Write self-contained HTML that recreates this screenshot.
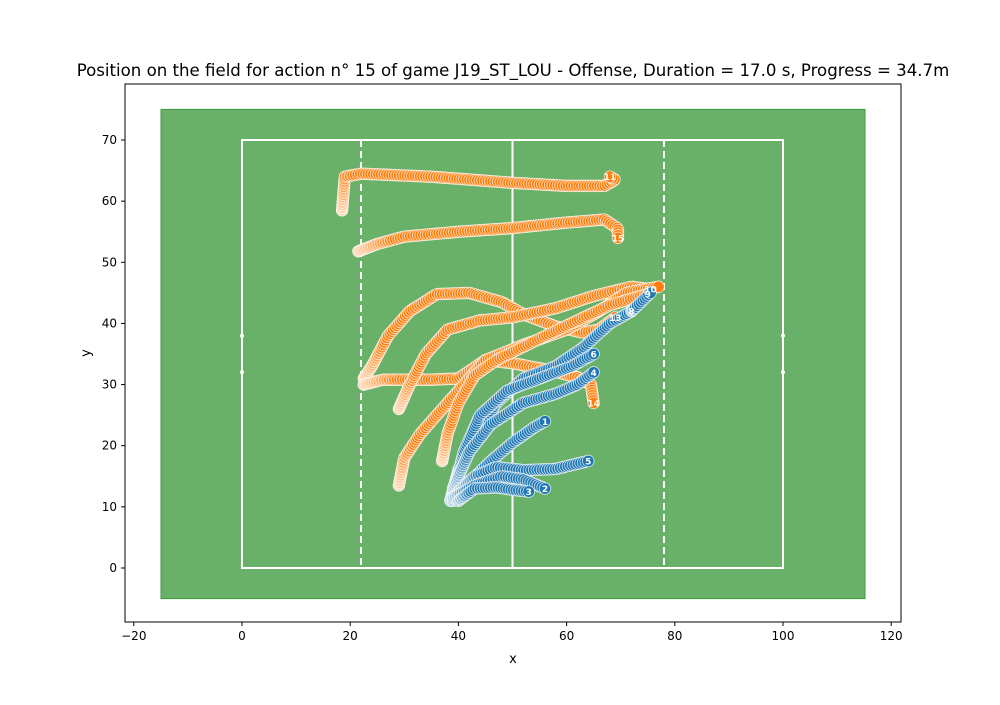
<!DOCTYPE html>
<html><head><meta charset="utf-8"><style>
body{margin:0;background:#fff;width:1000px;height:700px;overflow:hidden}
text{font-family:"DejaVu Sans","Liberation Sans",sans-serif}
</style></head><body>
<svg id="s" width="1000" height="700" xmlns="http://www.w3.org/2000/svg">
<text x="513" y="76" font-size="16.6" text-anchor="middle">Position on the field for action n° 15 of game J19_ST_LOU - Offense, Duration = 17.0 s, Progress = 34.7m</text>
<rect x="125" y="84" width="776" height="538" fill="#fff" stroke="#000" stroke-width="1"/>
<rect x="161" y="109.4" width="704" height="489.2" fill="#69b068" stroke="#3f9a3e" stroke-width="1"/>
<g stroke="#fff" stroke-width="2" fill="none">
<rect x="242" y="140" width="541" height="428"/>
<line x1="512.5" y1="140" x2="512.5" y2="568"/>
<line x1="361" y1="140" x2="361" y2="568" stroke-dasharray="7,4"/>
<line x1="664" y1="140" x2="664" y2="568" stroke-dasharray="7,4"/>
</g>
<g fill="#fff"><circle cx="242" cy="335.7" r="2"/><circle cx="242" cy="372.3" r="2"/><circle cx="783" cy="335.7" r="2"/><circle cx="783" cy="372.3" r="2"/></g>
<g id="tr"></g>
<g id="ax" font-size="12"></g>
<text x="513" y="663" font-size="13" text-anchor="middle">x</text>
<text x="90" y="353" font-size="13" text-anchor="middle" transform="rotate(-90 90 353)">y</text>
</svg>
<script>
var NS="http://www.w3.org/2000/svg",s=document.getElementById("tr"),ax=document.getElementById("ax");
function X(x){return 242+x*5.41}function Y(y){return 568-y*6.114}
function el(p,n,a){var e=document.createElementNS(NS,n);for(var k in a)e.setAttribute(k,a[k]);p.appendChild(e);return e}
[-20,0,20,40,60,80,100,120].forEach(function(v){var x=X(v);el(ax,"line",{x1:x,x2:x,y1:622,y2:626,stroke:"#000"});var t=el(ax,"text",{x:x,y:640,"text-anchor":"middle"});t.textContent=v<0?"\u2212"+(-v):v;});
[0,10,20,30,40,50,60,70].forEach(function(v){var y=Y(v);el(ax,"line",{x1:121,x2:125,y1:y,y2:y,stroke:"#000"});var t=el(ax,"text",{x:117,y:y+4,"text-anchor":"end"});t.textContent=v;});
var O=[255,127,14],B=[31,119,180];
var paths=[
[O,"11",[[18.5,58.5],[19,64],[22,64.5],[35,64],[50,63],[60,62.5],[67,62.5],[69,63.5],[68,64]]],
[O,"15",[[21.5,51.8],[25,53],[30,54.2],[40,55],[50,55.6],[60,56.5],[67,57],[69.5,55.5],[69.5,54]]],
[O,"13",[[22.5,31],[24,33],[27,38],[31,42],[36,44.8],[42,45],[48,43.5],[52,41.5],[58,39.5],[63,38.5],[66,39],[69,41]]],
[O,"14",[[22.5,30],[26,30.8],[35,30.8],[40,31],[45,34],[50,33.5],[56,32.5],[62,31.2],[64.5,30],[65,27]]],
[O,"10",[[29,26],[31,30],[34,35],[38,39],[44,40.5],[50,41],[58,42.5],[65,44.5],[72,46],[75.5,45.6]]],
[O,"",[[29,13.5],[30,18],[33,22],[37,26],[41,30],[45,34],[52,36.5],[60,39],[66,42],[71,45],[77,46]]],
[O,"9",[[37,17.5],[38,22],[40,27],[43,31.5],[47,34],[55,37.5],[62,40.5],[68,43],[75,44.8]]],
[B,"8",[[38.5,11],[40,16],[43,21],[47,27],[52,31],[58,33],[63,36],[68,40],[72,42]]],
[B,"",[[72,42],[75.5,45]]],
[B,"6",[[39,12],[41,19],[44,25],[49,29],[55,31],[61,33],[65,35]]],
[B,"4",[[39,13],[42,19],[46,23.5],[52,27],[58,28.5],[62,30],[65,32]]],
[B,"1",[[39,11],[42,14],[46,17.5],[50,20.5],[54,23],[56,24]]],
[B,"5",[[40,12.5],[43,15],[47,16.5],[52,16],[58,16.2],[64,17.5]]],
[B,"2",[[39,11.5],[43,13.5],[48,15],[52,14.5],[56,13]]],
[B,"3",[[40,11],[43,13],[47,13.2],[50,12.8],[53,12.5]]]];
var labels=[];
paths.forEach(function(p){var c=p[0],pts=p[2].map(function(q){return[X(q[0]),Y(q[1])]});
var seg=[],tot=0;for(var i=1;i<pts.length;i++){var d=Math.hypot(pts[i][0]-pts[i-1][0],pts[i][1]-pts[i-1][1]);seg.push(d);tot+=d;}
var n=Math.max(2,Math.round(tot/2.6));
for(var k=0;k<=n;k++){var t=k/n*tot,j=0;while(j<seg.length-1&&t>seg[j]){t-=seg[j];j++;}
var f=seg[j]?Math.min(1,t/seg[j]):0;var x=pts[j][0]+(pts[j+1][0]-pts[j][0])*f,y=pts[j][1]+(pts[j+1][1]-pts[j][1])*f;
var a=Math.min(1,0.3+k/n*(c===O?5:3));var col="rgb("+c.map(function(v){return Math.round(255-(255-v)*a)}).join(",")+")";
el(s,"circle",{cx:x,cy:y,r:5.8,fill:col,stroke:"#fff","stroke-width":0.8,"stroke-opacity":0.8});}
if(p[1]){var e=pts[pts.length-1];labels.push([e[0],e[1],p[1]]);}
});
labels.forEach(function(l){var t=el(s,"text",{x:l[0],y:l[1]+3.5,"text-anchor":"middle","font-size":9,"font-weight":"bold",fill:"#fff"});t.textContent=l[2];});
</script>
</body></html>
